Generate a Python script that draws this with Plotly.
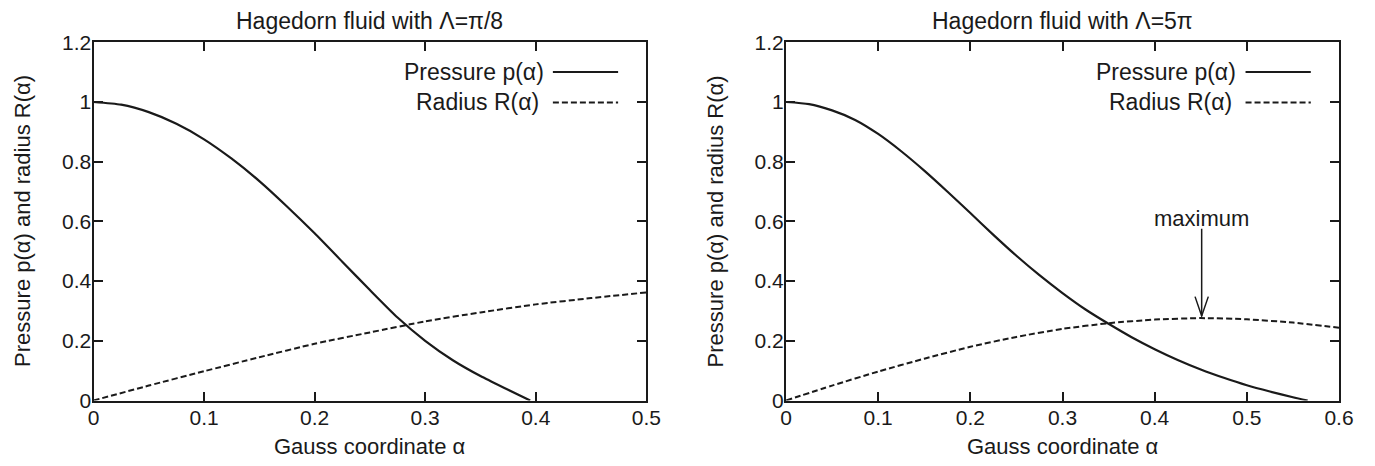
import plotly.graph_objects as go

# ---------------- data ----------------
alpha_p_left = [0, 0.025, 0.05, 0.075, 0.1, 0.125, 0.15, 0.175, 0.2, 0.225, 0.25,
                0.275, 0.3, 0.325, 0.35, 0.375, 0.395]
pressure_left = [1.0, 0.991, 0.966, 0.927, 0.875, 0.81, 0.735, 0.65, 0.56, 0.465,
                 0.37, 0.278, 0.2, 0.135, 0.082, 0.036, 0.0]
alpha_r_left = [0, 0.05, 0.1, 0.15, 0.2, 0.25, 0.3, 0.35, 0.4, 0.45, 0.5]
radius_left = [0.0, 0.05, 0.098, 0.145, 0.19, 0.228, 0.265, 0.295, 0.322, 0.343, 0.362]

alpha_p_right = [0, 0.025, 0.05, 0.075, 0.1, 0.125, 0.15, 0.175, 0.2, 0.225, 0.25,
                 0.275, 0.3, 0.325, 0.35, 0.375, 0.4, 0.425, 0.45, 0.475, 0.5,
                 0.525, 0.55, 0.566]
pressure_right = [1.0, 0.993, 0.972, 0.94, 0.893, 0.835, 0.77, 0.7, 0.628, 0.555,
                  0.485, 0.42, 0.36, 0.305, 0.257, 0.212, 0.172, 0.136, 0.104,
                  0.076, 0.051, 0.03, 0.011, 0.0]
alpha_r_right = [0, 0.05, 0.1, 0.15, 0.2, 0.25, 0.3, 0.35, 0.4, 0.45, 0.5, 0.55, 0.6]
radius_right = [0.0, 0.05, 0.097, 0.14, 0.18, 0.213, 0.24, 0.259, 0.271, 0.276,
                0.272, 0.261, 0.244]

titles = ["Hagedorn fluid with \u039b=\u03c0/8", "Hagedorn fluid with \u039b=5\u03c0"]
x_title = "Gauss coordinate \u03b1"
y_title = "Pressure p(\u03b1) and radius R(\u03b1)"
legend_labels = ["Pressure p(\u03b1)", "Radius R(\u03b1)"]
x_ticks_left = [0, 0.1, 0.2, 0.3, 0.4, 0.5]
x_ticks_right = [0, 0.1, 0.2, 0.3, 0.4, 0.5, 0.6]
y_ticks = [0, 0.2, 0.4, 0.6, 0.8, 1.0, 1.2]
max_label = "maximum"
max_alpha = 0.451
max_value = 0.277

# ---------------- figure ----------------
W, H = 1375, 466
FONT = "Liberation Sans, Arial, Helvetica, sans-serif"
INK = "#1a1a1a"
FS_TICK = 21
FS_TEXT = 22
FS_TITLE = 23

dom_left = [93.5 / W, 646.3 / W]
dom_right = [786.0 / W, 1339.0 / W]
dom_y = [1 - 400.5 / H, 1 - 42.3 / H]

fig = go.Figure()

line_solid = dict(color=INK, width=2.2)
line_dash = dict(color=INK, width=2, dash="6px,3px")

fig.add_trace(go.Scatter(x=alpha_p_left, y=pressure_left, mode="lines",
                         line=dict(**line_solid, shape="spline", smoothing=0.6),
                         xaxis="x", yaxis="y", showlegend=False))
fig.add_trace(go.Scatter(x=alpha_r_left, y=radius_left, mode="lines",
                         line=dict(**line_dash, shape="spline", smoothing=0.6),
                         xaxis="x", yaxis="y", showlegend=False))
fig.add_trace(go.Scatter(x=alpha_p_right, y=pressure_right, mode="lines",
                         line=dict(**line_solid, shape="spline", smoothing=0.6),
                         xaxis="x2", yaxis="y2", showlegend=False))
fig.add_trace(go.Scatter(x=alpha_r_right, y=radius_right, mode="lines",
                         line=dict(**line_dash, shape="spline", smoothing=0.6),
                         xaxis="x2", yaxis="y2", showlegend=False))

axis_common = dict(
    showline=True, linecolor=INK, linewidth=2, mirror="allticks",
    ticks="inside", ticklen=9, tickwidth=1.5, tickcolor=INK,
    showgrid=False, zeroline=False, automargin=False,
    tickfont=dict(family=FONT, size=FS_TICK, color=INK),
)
x_axis_style = dict(axis_common, ticklabelstandoff=-3)
y_axis_style = dict(axis_common, ticklabelstandoff=-4)

fig.update_layout(
    width=W, height=H, autosize=False,
    margin=dict(l=0, r=0, t=0, b=0, autoexpand=False),
    paper_bgcolor="white", plot_bgcolor="white",
    showlegend=False,
    xaxis=dict(domain=dom_left, range=[0, 0.5], tickvals=x_ticks_left,
               ticktext=[f"{v:g}" for v in x_ticks_left], anchor="y", **x_axis_style),
    yaxis=dict(domain=dom_y, range=[0, 1.2], tickvals=y_ticks,
               ticktext=[f"{v:g}" for v in y_ticks], anchor="x", **y_axis_style),
    xaxis2=dict(domain=dom_right, range=[0, 0.6], tickvals=x_ticks_right,
                ticktext=[f"{v:g}" for v in x_ticks_right], anchor="y2", **x_axis_style),
    yaxis2=dict(domain=dom_y, range=[0, 1.2], tickvals=y_ticks,
                ticktext=[f"{v:g}" for v in y_ticks], anchor="x2", **y_axis_style),
)

annotations = []
shapes = []
txt = dict(family=FONT, size=FS_TEXT, color=INK)
ttl = dict(family=FONT, size=FS_TITLE, color=INK)

for dom, title in ((dom_left, titles[0]), (dom_right, titles[1])):
    cx = (dom[0] + dom[1]) / 2
    annotations.append(dict(text=title, x=cx, y=1 - 21 / H, xref="paper", yref="paper",
                            showarrow=False, xanchor="center", yanchor="middle", font=ttl))
    annotations.append(dict(text=x_title, x=cx, y=1 - 446 / H, xref="paper", yref="paper",
                            showarrow=False, xanchor="center", yanchor="middle", font=txt))
    annotations.append(dict(text=y_title, x=(dom[0] * W - 71) / W, y=(dom_y[0] + dom_y[1]) / 2,
                            xref="paper", yref="paper", textangle=-90,
                            showarrow=False, xanchor="center", yanchor="middle", font=txt))

# legend (text left, line sample right, gnuplot style)
for xa, ya in (("x", "y"), ("x2", "y2")):
    for i, (lab, dash) in enumerate(zip(legend_labels, ["solid", "6px,3px"])):
        yy = 0.917 - i * 0.085
        annotations.append(dict(text=lab, x=0.818 if i == 0 else 0.81, y=yy,
                                xref=f"{xa} domain", yref=f"{ya} domain",
                                showarrow=False, xanchor="right", yanchor="middle", font=ttl))
        shapes.append(dict(type="line", xref=f"{xa} domain", yref=f"{ya} domain",
                           x0=0.831, x1=0.949, y0=yy, y1=yy,
                           line=dict(color=INK, width=2 if i == 0 else 1.8, dash=dash)))

# "maximum" annotation with open V arrowhead
tail_y = 0.575
tip_y = max_value + 0.006
annotations.append(dict(text=max_label, x=max_alpha, y=0.61, xref="x2", yref="y2",
                        showarrow=False, xanchor="center", yanchor="middle", font=txt))
shapes.append(dict(type="line", xref="x2", yref="y2", x0=max_alpha, x1=max_alpha,
                   y0=tail_y, y1=tip_y, line=dict(color=INK, width=1.5)))
shapes.append(dict(type="path", xref="x2", yref="y2",
                   path=f"M {max_alpha - 0.0072},{tip_y + 0.065} L {max_alpha},{tip_y} "
                        f"L {max_alpha + 0.0072},{tip_y + 0.065}",
                   line=dict(color=INK, width=1.5)))

fig.update_layout(annotations=annotations, shapes=shapes)

fig.write_html("out.html", config={"displayModeBar": False},
               post_script="document.body.style.margin='0';document.body.style.overflow='hidden';")
